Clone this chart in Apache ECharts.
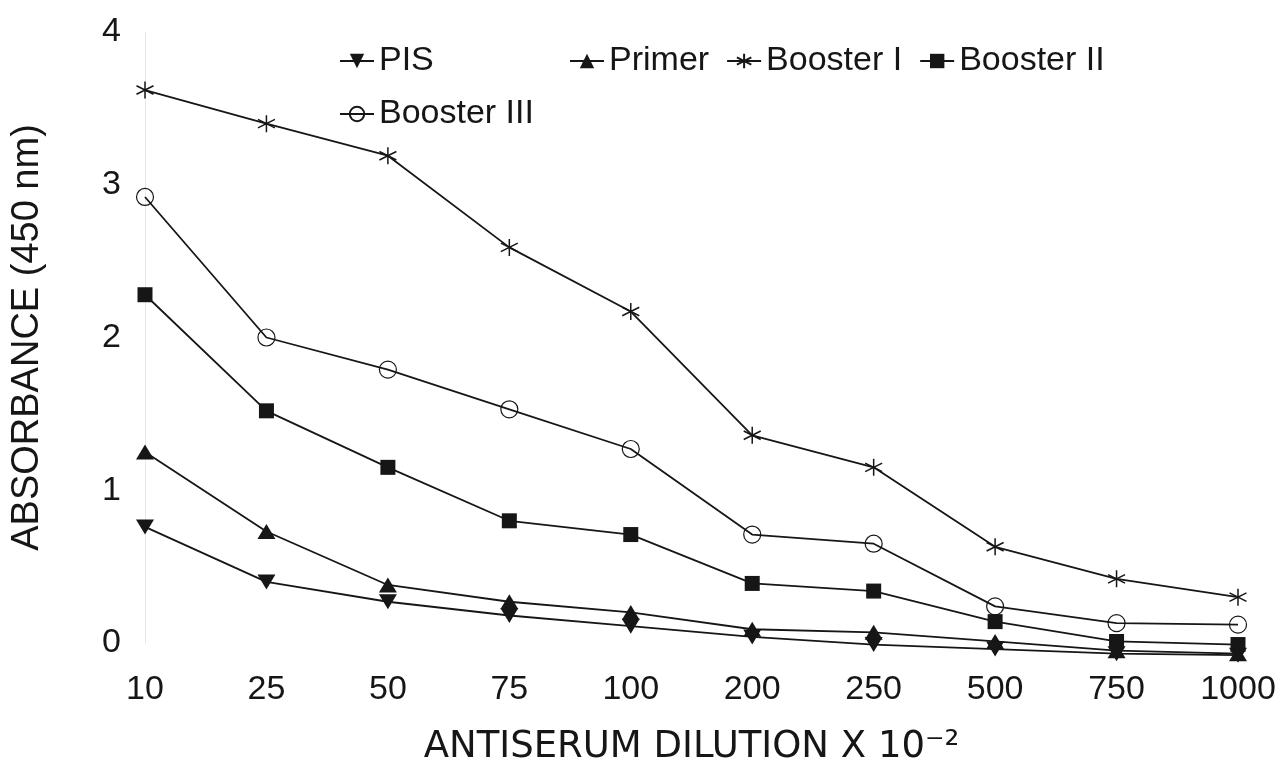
<!DOCTYPE html>
<html><head><meta charset="utf-8">
<script src="https://cdn.jsdelivr.net/npm/echarts@6/dist/echarts.min.js"></script>
<style>html,body{margin:0;padding:0;background:#fff}#c{width:1281px;height:766px}</style>
</head><body><div id="c"></div>
<script>
const categories = ['10','25','50','75','100','200','250','500','750','1000'];
const seriesNames = ['PIS','Primer','Booster I','Booster II','Booster III'];
const pis        = [0.76,0.40,0.27,0.18,0.11,0.04,-0.01,-0.04,-0.07,-0.08];
const primer     = [1.25,0.73,0.38,0.27,0.20,0.09,0.07,0.01,-0.05,-0.07];
const boosterI   = [3.62,3.40,3.19,2.59,2.17,1.36,1.15,0.63,0.42,0.30];
const boosterII  = [2.28,1.52,1.15,0.80,0.71,0.39,0.34,0.14,0.01,-0.01];
const boosterIII = [2.92,2.00,1.79,1.53,1.27,0.71,0.65,0.24,0.13,0.12];
const yMin = 0, yMax = 4, yStep = 1;

const INK = '#161616';
const FONT = 'Liberation Sans, Arial, sans-serif';
const downTri = 'path://M0,0 L20,0 L10,17 Z';
const star = 'path://M8,0 L8,16 M1,4 L15,12 M1,12 L15,4';

function mk(name, data, symbol, size, extra) {
  return Object.assign({
    name, type: 'line', data, symbol, symbolSize: size, clip: false,
    showAllSymbol: true, animation: false,
    lineStyle: { color: INK, width: 1.8 },
    itemStyle: { color: INK, borderColor: INK, borderWidth: 0 }
  }, extra || {});
}

const legendBase = {
  orient: 'horizontal', itemWidth: 34, itemHeight: 18, itemGap: 17,
  textStyle: { fontSize: 34, fontFamily: FONT, color: INK },
  selectedMode: false
};

const chart = echarts.init(document.getElementById('c'), null, { renderer: 'canvas' });
chart.setOption({
  backgroundColor: '#fff',
  animation: false,
  grid: { left: 145, right: 43, top: 32, bottom: 123, containLabel: false, outerBoundsMode: 'none' },
  legend: [
    Object.assign({}, legendBase, { data: ['PIS'], left: 334, top: 39 }),
    Object.assign({}, legendBase, { data: ['Primer','Booster I','Booster II'], left: 564, top: 39 }),
    Object.assign({}, legendBase, { data: ['Booster III'], left: 334, top: 92 })
  ],
  xAxis: {
    type: 'category', data: categories, boundaryGap: false,
    axisLine: { show: false }, axisTick: { show: false }, splitLine: { show: false },
    axisLabel: { fontSize: 34, fontFamily: FONT, color: INK, margin: 30, interval: 0 },
    name: 'ANTISERUM DILUTION X 10{s|⁻²}',
    nameLocation: 'middle', nameGap: 86,
    nameTextStyle: {
      fontSize: 37, fontFamily: 'DejaVu Sans, sans-serif', color: INK,
      rich: { s: { fontSize: 37, fontFamily: 'DejaVu Sans, sans-serif', color: INK } }
    }
  },
  yAxis: {
    type: 'value', min: yMin, max: yMax, interval: yStep,
    axisLine: { show: true, lineStyle: { color: '#e2e2e2', type: 'dotted', width: 1 } },
    axisTick: { show: false }, splitLine: { show: false },
    axisLabel: { fontSize: 34, fontFamily: FONT, color: INK, margin: 24 },
    name: 'ABSORBANCE (450 nm)', nameLocation: 'middle', nameGap: 98,
    nameTextStyle: { fontSize: 38, fontFamily: FONT, color: INK }
  },
  series: [
    mk(seriesNames[0], pis, downTri, [18, 15]),
    mk(seriesNames[1], primer, 'triangle', [18, 15]),
    mk(seriesNames[2], boosterI, star, [17, 17], { itemStyle: { color: INK, borderColor: INK, borderWidth: 1.5 } }),
    mk(seriesNames[3], boosterII, 'rect', [15, 15]),
    mk(seriesNames[4], boosterIII, 'circle', 17, { itemStyle: { color: 'rgba(0,0,0,0)', borderColor: INK, borderWidth: 1.2 } })
  ]
});
</script></body></html>
